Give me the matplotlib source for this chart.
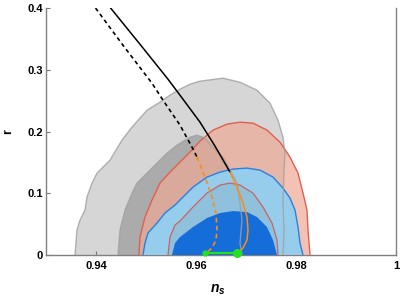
import matplotlib
matplotlib.use("Agg")
import matplotlib.pyplot as plt

# ---- data (n_s, r) ----
gray2_ns = [0.9358, 0.9362, 0.9368, 0.9378, 0.9382, 0.9392, 0.9402, 0.9428, 0.9452, 0.9472, 0.9502,
            0.9528, 0.9548, 0.9568, 0.9588, 0.9608, 0.9654, 0.9688, 0.9722, 0.9748, 0.9764, 0.9774,
            0.9778, 0.9776, 0.9774, 0.9776, 0.9774]
gray2_r = [0.0, 0.0405, 0.0566, 0.0728, 0.0939, 0.1165, 0.1327, 0.1537, 0.1861, 0.2071, 0.2346,
           0.2476, 0.2589, 0.2686, 0.2767, 0.2816, 0.2864, 0.2799, 0.2670, 0.2460, 0.2184, 0.1909,
           0.1650, 0.1375, 0.0841, 0.0405, 0.0]

gray1_ns = [0.9444, 0.9448, 0.9458, 0.9472, 0.9482, 0.9502, 0.9522, 0.9542, 0.9562, 0.9588,
            0.9602, 0.9618, 0.9634, 0.9654, 0.9668, 0.9682, 0.9688, 0.9692, 0.9688, 0.9692]
gray1_r = [0.0, 0.0405, 0.0728, 0.1003, 0.1165, 0.1327, 0.1489, 0.1650, 0.1780, 0.1909,
           0.1942, 0.1893, 0.1748, 0.1586, 0.1375, 0.1165, 0.0841, 0.0566, 0.0194, 0.0]

red2_ns = [0.9486, 0.9488, 0.9498, 0.9512, 0.9528, 0.9548, 0.9568, 0.9588, 0.9608, 0.9634, 0.9662,
           0.9688, 0.9714, 0.9742, 0.9768, 0.9788, 0.9804, 0.9814, 0.9822, 0.9824, 0.9828]
red2_r = [0.0, 0.0291, 0.0615, 0.0890, 0.1165, 0.1343, 0.1505, 0.1667, 0.1845, 0.2023, 0.2120,
          0.2152, 0.2136, 0.2023, 0.1828, 0.1586, 0.1327, 0.1003, 0.0728, 0.0405, 0.0]

red1_ns = [0.9544, 0.9548, 0.9558, 0.9568, 0.9594, 0.9622, 0.9648, 0.9668, 0.9688, 0.9714,
           0.9734, 0.9752, 0.9762, 0.9764]
red1_r = [0.0, 0.0291, 0.0485, 0.0550, 0.0777, 0.1003, 0.1133, 0.1165, 0.1133, 0.1003,
          0.0777, 0.0518, 0.0243, 0.0]

blue2_ns = [0.9494, 0.9498, 0.9504, 0.9522, 0.9538, 0.9558, 0.9568, 0.9594, 0.9622, 0.9648,
            0.9674, 0.9702, 0.9728, 0.9754, 0.9774, 0.9788, 0.9798, 0.9804, 0.9808, 0.9814]
blue2_r = [0.0, 0.0194, 0.0356, 0.0518, 0.0680, 0.0809, 0.0890, 0.1100, 0.1262, 0.1343,
           0.1392, 0.1408, 0.1375, 0.1262, 0.1084, 0.0922, 0.0728, 0.0453, 0.0194, 0.0]

blue1_ns = [0.9552, 0.9558, 0.9568, 0.9594, 0.9622, 0.9648, 0.9674, 0.9702, 0.9722, 0.9742,
            0.9754, 0.9762]
blue1_r = [0.0, 0.0194, 0.0291, 0.0453, 0.0599, 0.0680, 0.0712, 0.0696, 0.0615, 0.0453,
           0.0243, 0.0]

black_solid_ns = [0.9420, 0.9428, 0.9488, 0.9544, 0.9568, 0.9608, 0.9638, 0.9668]
black_solid_r = [0.4094, 0.4013, 0.3414, 0.2848, 0.2589, 0.2152, 0.1764, 0.1343]
orange_solid_ns = [0.9668, 0.9682, 0.9694, 0.9702, 0.9704, 0.9702, 0.9694, 0.9684]
orange_solid_r = [0.1343, 0.1100, 0.0841, 0.0615, 0.0405, 0.0243, 0.0113, 0.0032]

black_dash_ns = [0.9390, 0.9398, 0.9454, 0.9512, 0.9534, 0.9568, 0.9592, 0.9602]
black_dash_r = [0.4094, 0.4013, 0.3398, 0.2783, 0.2508, 0.2104, 0.1748, 0.1586]
orange_dash_ns = [0.9602, 0.9618, 0.9632, 0.9640, 0.9642, 0.9640, 0.9632, 0.9620]
orange_dash_r = [0.1586, 0.1262, 0.0939, 0.0680, 0.0405, 0.0243, 0.0113, 0.0032]

green_ns = [0.9618, 0.9682]
green_r = [0.0032, 0.0032]

xticks = [0.94, 0.96, 0.98, 1.0]
xticklabels = ["0.94", "0.96", "0.98", "1"]
yticks = [0.0, 0.1, 0.2, 0.3, 0.4]
yticklabels = ["0", "0.1", "0.2", "0.3", "0.4"]

plt.rcParams['font.family'] = ['Liberation Sans', 'DejaVu Sans']
plt.rcParams['mathtext.fontset'] = 'custom'
plt.rcParams['mathtext.it'] = 'Liberation Sans:italic:bold'
plt.rcParams['mathtext.rm'] = 'Liberation Sans:bold'

fig = plt.figure(figsize=(4, 3), dpi=100)
ax = fig.add_axes([0.115, 0.15, 0.875, 0.823])

# fills
ax.fill(gray2_ns, gray2_r, color='#d6d6d6', lw=0, zorder=1)
ax.fill(gray1_ns, gray1_r, color='#ababab', lw=0, zorder=2)
ax.fill(red2_ns, red2_r, color=(238/255, 169/255, 149/255), alpha=0.7, lw=0, zorder=3)
ax.fill(blue2_ns, blue2_r, color='#96cdec', lw=0, zorder=4)
ax.fill(red1_ns, red1_r, color='#8fc0dc', lw=0, zorder=5)
ax.fill(blue1_ns, blue1_r, color='#156dd9', lw=0, zorder=6)

# contour lines
ckw = dict(solid_joinstyle='round', solid_capstyle='round')
ax.plot(red2_ns, red2_r, color='#e0604f', lw=1.0, zorder=7, **ckw)
ax.plot(red1_ns, red1_r, color='#cc6262', lw=0.9, zorder=7, **ckw)
ax.plot(blue2_ns, blue2_r, color='#2a80de', lw=1.0, zorder=7, **ckw)
ax.plot(gray2_ns, gray2_r, color='#a0a0a0', lw=1.0, alpha=0.8, zorder=8, **ckw)
ax.plot(gray1_ns, gray1_r, color='#a0a0a0', lw=1.0, alpha=0.8, zorder=8, **ckw)

# model lines
ax.plot(black_solid_ns, black_solid_r, color='black', lw=1.1, zorder=10, **ckw)
ax.plot(orange_solid_ns, orange_solid_r, color='#ff8c10', lw=1.1, zorder=10, **ckw)
ax.plot(black_dash_ns, black_dash_r, color='black', lw=1.2, ls=(0, (2.4, 2.0)), zorder=10)
ax.plot(orange_dash_ns, orange_dash_r, color='#ff8c10', lw=1.2, ls=(0, (2.8, 2.0)), zorder=10)
ax.plot(green_ns, green_r, color='#22e022', lw=1.6, zorder=11, clip_on=False)
ax.plot(green_ns[0], green_r[0], 'o', color='#22e022', ms=3.5, zorder=12, clip_on=False)
ax.plot(green_ns[1], green_r[1], 'o', color='#22e022', ms=5.5, zorder=12, clip_on=False)

ax.set_xlim(0.93, 1.0)
ax.set_ylim(0, 0.4)
ax.set_xticks(xticks)
ax.set_xticklabels(xticklabels, fontsize=8, fontweight='bold')
ax.set_yticks(yticks)
ax.set_yticklabels(yticklabels, fontsize=8, fontweight='bold')
ax.tick_params(direction='in', length=3, width=0.8, color='#777777', pad=4)
ax.tick_params(axis='y', pad=2)
for s in ['left', 'bottom', 'right']:
    ax.spines[s].set_color('#808080')
    ax.spines[s].set_linewidth(1.0)
ax.spines['top'].set_visible(False)

ax.set_ylabel('r', fontsize=9, fontweight='bold', va='center')
ax.yaxis.set_label_coords(-0.108, 0.5)
ax.set_xlabel(r'$n_s$', fontsize=10, va='center')
ax.xaxis.set_label_coords(0.49, -0.14)

fig.savefig('out.png', dpi=100)
